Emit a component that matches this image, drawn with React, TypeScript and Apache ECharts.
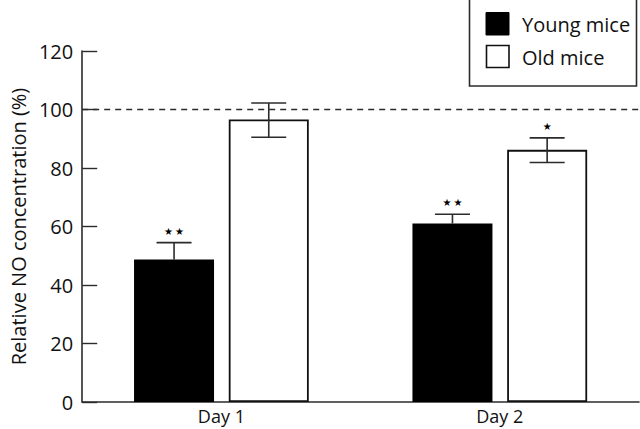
import React, { useEffect, useRef } from "react";
import * as echarts from "echarts";

const categories = ["Day 1", "Day 2"];
const seriesNames = ["Young mice", "Old mice"];
const youngMean = [48.7, 61.0];
const youngUpper = [54.5, 64.2];
const oldMean = [96.6, 86.2];
const oldLower = [90.5, 81.9];
const oldUpper = [102.2, 90.3];
const youngStars = [2, 2];
const oldStars = [0, 1];
const referenceLevel = 100;
const yMin = 0;
const yMax = 120;
const yStep = 20;

const FONT = "Open Sans";
const INK = "#2b2b2b";
const BAR_W = 80;
const BAR_GAP = 14.7;

function errorSeries(name: string, side: number, mean: number[], lower: (number | null)[], upper: number[], stars: number[]) {
  const data = categories.map((_, i) => [i, mean[i], lower[i], upper[i], stars[i]]);
  return {
    type: "custom",
    name,
    data,
    z: 5,
    renderItem: (params: any, api: any) => {
      const idx = api.value(0);
      const m = api.value(1);
      const lo = api.value(2);
      const hi = api.value(3);
      const n = api.value(4);
      const c = api.coord([idx, m]);
      const x = c[0] + side * (BAR_W + BAR_GAP) / 2;
      const yHi = api.coord([idx, hi])[1];
      const hasLo = lo !== null && !isNaN(lo) && lo > 0;
      const yLo = hasLo ? api.coord([idx, lo])[1] : c[1];
      const capHalf = 17.5;
      const st = { stroke: INK, lineWidth: 1.6 };
      const children: any[] = [
        { type: "line", shape: { x1: x, y1: yHi, x2: x, y2: yLo }, style: st },
        { type: "line", shape: { x1: x - capHalf, y1: yHi, x2: x + capHalf, y2: yHi }, style: st },
      ];
      if (hasLo) {
        children.push({ type: "line", shape: { x1: x - capHalf, y1: yLo, x2: x + capHalf, y2: yLo }, style: st });
      }
      for (let k = 0; k < n; k++) {
        const sx = x + (k - (n - 1) / 2) * 11;
        children.push({
          type: "text",
          style: {
            text: "★",
            x: sx,
            y: yHi - 11.5,
            fill: "#000",
            font: "10px DejaVu Sans",
            align: "center",
            verticalAlign: "middle",
          },
        });
      }
      return { type: "group", children };
    },
  };
}

export default function App() {
  const ref = useRef<HTMLDivElement>(null);
  useEffect(() => {
    if (!ref.current) return;
    const chart = echarts.init(ref.current, null, { renderer: "svg" });
    const option: any = {
      animation: false,
      backgroundColor: "#fff",
      grid: { left: 77, top: 51, right: 1, bottom: 27, containLabel: false },
      xAxis: {
        type: "category",
        data: categories,
        axisLine: { lineStyle: { color: INK, width: 1.6 } },
        axisTick: { inside: true, length: 16, lineStyle: { color: INK, width: 1.4 } },
        axisLabel: { color: "#111", fontFamily: FONT, fontSize: 18, margin: 5 },
      },
      yAxis: {
        type: "value",
        min: yMin,
        max: yMax,
        interval: yStep,
        name: "Relative NO concentration (%)",
        nameLocation: "middle",
        nameGap: 53,
        nameTextStyle: { color: "#111", fontFamily: FONT, fontSize: 20 },
        axisLine: { show: true, lineStyle: { color: INK, width: 1.6 } },
        axisTick: { show: true, inside: true, length: 15, lineStyle: { color: INK, width: 1.4 } },
        axisLabel: { color: "#111", fontFamily: FONT, fontSize: 20, margin: 9 },
        splitLine: { show: false },
      },
      series: [
        {
          type: "bar",
          name: seriesNames[0],
          data: youngMean,
          barWidth: BAR_W,
          barGap: (BAR_GAP / BAR_W * 100).toFixed(1) + "%",
          itemStyle: { color: "#000", borderColor: "#000", borderWidth: 0 },
          markLine: {
            silent: true,
            symbol: "none",
            label: { show: false },
            lineStyle: { color: INK, type: [6, 5], width: 1.4 },
            data: [{ yAxis: referenceLevel }],
          },
        },
        {
          type: "bar",
          name: seriesNames[1],
          data: oldMean,
          barWidth: BAR_W,
          itemStyle: { color: "#fff", borderColor: "#111", borderWidth: 1.8 },
        },
        errorSeries("young-err", -1, youngMean, [null, null], youngUpper, youngStars),
        errorSeries("old-err", 1, oldMean, oldLower, oldUpper, oldStars),
      ],
      graphic: [
        {
          type: "rect",
          shape: { x: 469.5, y: -2, width: 167, height: 88 },
          style: { fill: "#fff", stroke: INK, lineWidth: 1.6 },
          z: 10,
        },
        {
          type: "rect",
          shape: { x: 486, y: 12.5, width: 23, height: 22.5 },
          style: { fill: "#000", stroke: "#000", lineWidth: 1 },
          z: 11,
        },
        {
          type: "rect",
          shape: { x: 486.5, y: 45.5, width: 22.5, height: 22 },
          style: { fill: "#fff", stroke: "#111", lineWidth: 1.6 },
          z: 11,
        },
        {
          type: "text",
          style: { text: seriesNames[0], x: 522, y: 24, fill: "#111", font: `20px ${FONT}`, verticalAlign: "middle" },
          z: 11,
        },
        {
          type: "text",
          style: { text: seriesNames[1], x: 522, y: 57, fill: "#111", font: `20px ${FONT}`, verticalAlign: "middle" },
          z: 11,
        },
      ],
    };
    chart.setOption(option);
    return () => chart.dispose();
  }, []);
  return <div ref={ref} style={{ width: 640, height: 429, position: "absolute", left: 0, top: 0 }} />;
}
